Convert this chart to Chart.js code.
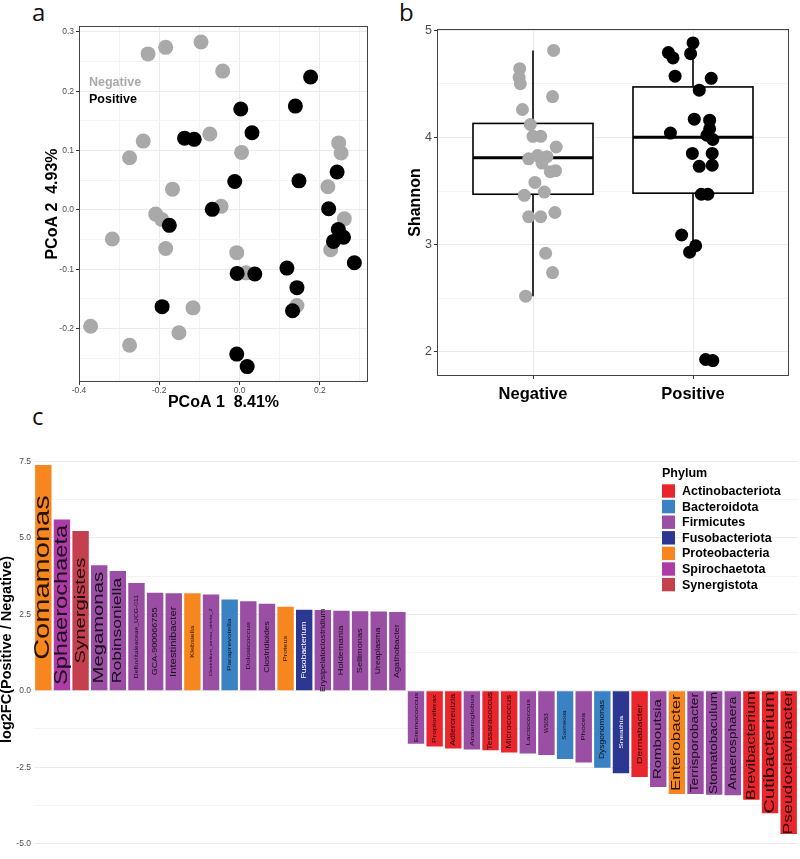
<!DOCTYPE html>
<html>
<head>
<meta charset="utf-8">
<script src="https://cdn.jsdelivr.net/npm/chart.js@4.4.0/dist/chart.umd.min.js"></script>
<style>
  body { margin: 0; background: #fff; width: 800px; height: 859px; position: relative; overflow: hidden; }
  canvas { position: absolute; }
  .tag { position: absolute; font-family: 'Open Sans', sans-serif; font-size: 24px; line-height: 24px; color: #111; }
</style>
</head>
<body>
<div class="tag" style="left:32px;top:0">a</div>
<div class="tag" style="left:399px;top:0">b</div>
<div class="tag" style="left:32px;top:404px">c</div>
<canvas id="pcoa" width="395" height="420" style="left:0;top:0"></canvas>
<canvas id="shannon" width="400" height="420" style="left:400px;top:0"></canvas>
<canvas id="lfc" width="800" height="419" style="left:0;top:440px"></canvas>
<script>
// ---- panel a: PCoA ----
const groups = ['Negative', 'Positive'];
const negPc1 = [-0.228, -0.184, -0.096, -0.042, -0.074, -0.240, -0.274, 0.005, -0.167, -0.046, -0.209, -0.194, -0.317,
                -0.184, -0.007, 0.016, -0.116, -0.151, -0.371, -0.274, 0.247, 0.253, 0.220, 0.261, 0.227, 0.143];
const negPc2 = [0.263, 0.274, 0.283, 0.234, 0.128, 0.116, 0.088, 0.097, 0.035, 0.006, -0.007, -0.016, -0.049,
                -0.065, -0.072, -0.106, -0.165, -0.207, -0.196, -0.228, 0.113, 0.096, 0.039, -0.015, -0.067, -0.161];
const posPc1 = [0.177, 0.139, 0.003, 0.031, -0.137, -0.113, -0.012, 0.148, 0.243, -0.068, 0.222, -0.175,
                0.246, 0.259, 0.234, 0.286, 0.118, -0.006, 0.038, 0.143, 0.132, -0.193, -0.007, 0.019];
const posPc2 = [0.224, 0.175, 0.170, 0.130, 0.121, 0.119, 0.048, 0.049, 0.064, 0.001, 0.002, -0.026,
                -0.033, -0.046, -0.053, -0.089, -0.098, -0.107, -0.108, -0.131, -0.170, -0.163, -0.243, -0.264];
const pc1Ticks = [-0.4, -0.3, -0.2, -0.1, 0, 0.1, 0.2, 0.3];
const pc2Ticks = [-0.25, -0.2, -0.15, -0.1, -0.05, 0, 0.05, 0.1, 0.15, 0.2, 0.25, 0.3];

// ---- panel b: Shannon ----
const negJitter = [1.129, 0.917, 0.913, 0.921, 1.122, 0.934, 0.983, 1.0, 1.048, 1.145, 0.973, 1.029, 1.087,
                   1.056, 1.108, 1.141, 1.012, 0.946, 1.071, 0.973, 1.048, 1.137, 1.079, 1.122, 0.954];
const negShannon = [4.81, 4.64, 4.56, 4.50, 4.38, 4.26, 4.12, 4.01, 4.01, 3.91, 3.80, 3.83, 3.82,
                    3.76, 3.68, 3.69, 3.58, 3.46, 3.49, 3.26, 3.26, 3.30, 2.92, 2.74, 2.52];
const posJitter = [2.0, 1.846, 1.875, 1.985, 1.888, 2.114, 2.039, 2.008, 2.104, 2.104, 1.859, 2.087,
                   2.124, 1.996, 2.120, 2.039, 2.120, 2.052, 2.093, 1.929, 2.017, 1.979, 2.079, 2.124];
const posShannon = [4.88, 4.79, 4.74, 4.78, 4.57, 4.55, 4.44, 4.17, 4.16, 4.08, 4.04, 4.02,
                    3.98, 3.85, 3.85, 3.73, 3.74, 3.47, 3.47, 3.09, 2.99, 2.93, 1.93, 1.92];
const boxLow = [2.52, 2.93];
const boxQ1 = [3.47, 3.48];
const boxMedian = [3.81, 4.00];
const boxQ3 = [4.13, 4.47];
const boxHigh = [4.81, 4.88];
const shannonTicks = [2, 2.5, 3, 3.5, 4, 4.5, 5];

// ---- panel c: log2 fold change ----
const genera = ['Comamonas', 'Sphaerochaeta', 'Synergistes', 'Megamonas', 'Robinsoniella', 'Defluviitaleaceae_UCG-011',
  'GCA-900066755', 'Intestinibacter', 'Klebsiella', 'Clostridium_sensu_stricto_2', 'Paraprevotella', 'Dolosicoccus',
  'Clostridioides', 'Proteus', 'Fusobacterium', 'Erysipelatoclostridium', 'Holdemania', 'Sellimonas', 'Ureaplasma',
  'Agathobacter', 'Eremococcus', 'Propioniferax', 'Adlercreutzia', 'Anaeroglobus', 'Tessaracoccus', 'Micrococcus',
  'Lactococcus', 'W5053', 'Soonwooa', 'Phocea', 'Dysgonomonas', 'Sneathia', 'Dermabacter', 'Romboutsia',
  'Enterobacter', 'Terrisporobacter', 'Stomatobaculum', 'Anaerosphaera', 'Brevibacterium', 'Cutibacterium',
  'Pseudoclavibacter'];
const log2fc = [7.39, 5.60, 5.23, 4.11, 3.92, 3.53, 3.21, 3.19, 3.19, 3.15, 2.99, 2.93, 2.85, 2.75, 2.65, 2.64, 2.62,
  2.60, 2.59, 2.58, -1.73, -1.82, -1.89, -1.92, -1.95, -2.02, -2.05, -2.10, -2.23, -2.35, -2.52, -2.70, -2.82,
  -3.15, -3.38, -3.38, -3.40, -3.42, -3.57, -4.01, -4.69];
const phylumOf = ['Proteobacteria', 'Spirochaetota', 'Synergistota', 'Firmicutes', 'Firmicutes', 'Firmicutes',
  'Firmicutes', 'Firmicutes', 'Proteobacteria', 'Firmicutes', 'Bacteroidota', 'Firmicutes', 'Firmicutes',
  'Proteobacteria', 'Fusobacteriota', 'Firmicutes', 'Firmicutes', 'Firmicutes', 'Firmicutes', 'Firmicutes',
  'Firmicutes', 'Actinobacteriota', 'Actinobacteriota', 'Firmicutes', 'Actinobacteriota', 'Actinobacteriota',
  'Firmicutes', 'Firmicutes', 'Bacteroidota', 'Firmicutes', 'Bacteroidota', 'Fusobacteriota', 'Actinobacteriota',
  'Firmicutes', 'Proteobacteria', 'Firmicutes', 'Firmicutes', 'Firmicutes', 'Actinobacteriota', 'Actinobacteriota',
  'Actinobacteriota'];
const phyla = ['Actinobacteriota', 'Bacteroidota', 'Firmicutes', 'Fusobacteriota', 'Proteobacteria', 'Spirochaetota', 'Synergistota'];
const lfcTicks = [-5, -3.75, -2.5, -1.25, 0, 1.25, 2.5, 3.75, 5, 6.25, 7.5];

// ---- styling ----
const FONT = '"Liberation Sans", Arial, sans-serif';
const GRAY = '#a9a9a9';
const GRID = '#ebebeb';
const GRID_MINOR = '#f4f4f4';
const TICK_TXT = '#4d4d4d';
const phylumColors = {
  Actinobacteriota: '#e8262b', Bacteroidota: '#3a82c3', Firmicutes: '#9a4fa5', Fusobacteriota: '#2b3791',
  Proteobacteria: '#f7861f', Spirochaetota: '#ad3ca6', Synergistota: '#c5404f'
};
// label size inside each bar (px) and stretch along the text
const labelPx = [21.5, 17.5, 15, 15, 13, 5, 6.7, 8.4, 5.5, 4, 6, 6, 6.4, 5.5, 6.4, 6.4, 6.9, 6.8, 6.4, 6.7,
  6.1, 6.1, 6.6, 6.2, 6.5, 7.2, 6.2, 4.6, 4.6, 6.1, 6.3, 6.2, 7.7, 11.1, 12.5, 10.2, 10.1, 10.1, 12.1, 14.7, 13];
const labelStretch = 1.35;

Chart.defaults.font.family = FONT;
Chart.defaults.animation = false;

const isMult = (v, s) => Math.abs(v / s - Math.round(v / s)) < 1e-6;

const frame = {
  id: 'frame',
  afterDraw(chart) {
    const { ctx, chartArea: a } = chart;
    ctx.save();
    ctx.strokeStyle = '#444';
    ctx.lineWidth = 1;
    ctx.strokeRect(Math.round(a.left) + 0.5, Math.round(a.top) + 0.5,
      Math.round(a.right - a.left) - 1, Math.round(a.bottom - a.top) - 1);
    ctx.restore();
  }
};

function gridOpts(step) {
  return {
    color: c => isMult(c.tick.value, step) ? GRID : GRID_MINOR,
    lineWidth: 1,
    tickLength: 3,
    tickColor: c => isMult(c.tick.value, step) ? '#333' : 'rgba(0,0,0,0)'
  };
}

// ---- a ----
const groupKey = {
  id: 'groupKey',
  afterDraw(chart) {
    const { ctx, chartArea: a } = chart;
    ctx.save();
    ctx.font = 'bold 12.5px ' + FONT;
    chart.data.datasets.forEach((ds, i) => {
      ctx.fillStyle = ds.backgroundColor;
      ctx.fillText(ds.label, a.left + 10, a.top + 60 + i * 17);
    });
    ctx.restore();
  }
};

new Chart(document.getElementById('pcoa'), {
  type: 'scatter',
  data: {
    datasets: [
      { label: groups[0], data: negPc1.map((x, i) => ({ x, y: negPc2[i] })), backgroundColor: GRAY, borderWidth: 0, pointRadius: 7.5, order: 2 },
      { label: groups[1], data: posPc1.map((x, i) => ({ x, y: posPc2[i] })), backgroundColor: '#000', borderWidth: 0, pointRadius: 7.5, order: 1 }
    ]
  },
  options: {
    responsive: false,
    layout: { padding: { top: 26, right: 27, left: 0, bottom: 0 } },
    plugins: { legend: { display: false }, tooltip: { enabled: false } },
    scales: {
      x: {
        type: 'linear', min: -0.4, max: 0.32,
        afterBuildTicks: s => { s.ticks = pc1Ticks.map(value => ({ value })); },
        afterFit: s => { s.height = 38; },
        ticks: { callback: v => isMult(v, 0.2) ? v.toFixed(1) : '', color: TICK_TXT, font: { size: 8.5 }, padding: 1, maxRotation: 0 },
        grid: gridOpts(0.2),
        border: { display: false },
        title: { display: true, text: 'PCoA 1  8.41%', color: '#000', font: { size: 16, weight: 'bold', lineHeight: 1 }, padding: { top: 0, bottom: 9 } }
      },
      y: {
        type: 'linear', min: -0.29, max: 0.31,
        afterBuildTicks: s => { s.ticks = pc2Ticks.map(value => ({ value })); },
        afterFit: s => { s.width = 79; },
        ticks: { callback: v => isMult(v, 0.1) ? v.toFixed(1) : '', color: TICK_TXT, font: { size: 8.5 }, padding: 2 },
        grid: gridOpts(0.1),
        border: { display: false },
        title: { display: true, text: 'PCoA 2  4.93%', color: '#000', font: { size: 16, weight: 'bold', lineHeight: 1 }, padding: { top: 45, bottom: 0 } }
      }
    }
  },
  plugins: [frame, groupKey]
});

// ---- b ----
const boxHalf = 0.375;
const boxes = {
  id: 'boxes',
  beforeDatasetsDraw(chart) {
    const { ctx, scales: { x, y } } = chart;
    ctx.save();
    ctx.strokeStyle = '#000';
    groups.forEach((g, i) => {
      const l = x.getPixelForValue(i + 1 - boxHalf), r = x.getPixelForValue(i + 1 + boxHalf);
      const m = x.getPixelForValue(i + 1);
      ctx.lineWidth = 1.6;
      ctx.beginPath();
      ctx.moveTo(m, y.getPixelForValue(boxHigh[i])); ctx.lineTo(m, y.getPixelForValue(boxQ3[i]));
      ctx.moveTo(m, y.getPixelForValue(boxQ1[i])); ctx.lineTo(m, y.getPixelForValue(boxLow[i]));
      ctx.stroke();
      const t = y.getPixelForValue(boxQ3[i]), b = y.getPixelForValue(boxQ1[i]);
      ctx.fillStyle = '#fff';
      ctx.fillRect(l, t, r - l, b - t);
      ctx.strokeRect(l, t, r - l, b - t);
      ctx.lineWidth = 3;
      ctx.beginPath();
      const md = y.getPixelForValue(boxMedian[i]);
      ctx.moveTo(l, md); ctx.lineTo(r, md);
      ctx.stroke();
    });
    ctx.restore();
  }
};

new Chart(document.getElementById('shannon'), {
  type: 'scatter',
  data: {
    datasets: [
      { label: groups[0], data: negJitter.map((x, i) => ({ x, y: negShannon[i] })), backgroundColor: GRAY, borderWidth: 0, pointRadius: 6.5, order: 2 },
      { label: groups[1], data: posJitter.map((x, i) => ({ x, y: posShannon[i] })), backgroundColor: '#000', borderWidth: 0, pointRadius: 6.5, order: 1 }
    ]
  },
  options: {
    responsive: false,
    layout: { padding: { top: 29, right: 11, left: 0, bottom: 0 } },
    plugins: { legend: { display: false }, tooltip: { enabled: false } },
    scales: {
      x: {
        type: 'linear', min: 0.4, max: 2.6,
        afterBuildTicks: s => { s.ticks = [1, 2].map(value => ({ value })); },
        afterFit: s => { s.height = 44; },
        ticks: { callback: v => groups[v - 1], color: '#000', font: { size: 16.5, weight: 'bold' }, padding: 6, maxRotation: 0 },
        grid: gridOpts(1),
        border: { display: false }
      },
      y: {
        type: 'linear', min: 1.776, max: 5.01,
        afterBuildTicks: s => { s.ticks = shannonTicks.map(value => ({ value })); },
        afterFit: s => { s.width = 37; },
        ticks: { callback: v => isMult(v, 1) ? String(v) : '', color: TICK_TXT, font: { size: 12.5 }, padding: 2 },
        grid: gridOpts(1),
        border: { display: false },
        title: { display: true, text: 'Shannon', color: '#000', font: { size: 16, weight: 'bold', lineHeight: 1 }, padding: { top: 8, bottom: 0 } }
      }
    }
  },
  plugins: [boxes, frame]
});

// ---- c ----
const barLabels = {
  id: 'barLabels',
  afterDatasetsDraw(chart) {
    const { ctx } = chart;
    const meta = chart.getDatasetMeta(0);
    ctx.save();
    ctx.textAlign = 'center';
    ctx.textBaseline = 'middle';
    meta.data.forEach((bar, i) => {
      const cy = (bar.y + bar.base) / 2;
      ctx.save();
      ctx.translate(bar.x, cy);
      ctx.rotate(-Math.PI / 2);
      ctx.scale(labelStretch, 1);
      ctx.font = labelPx[i] + 'px ' + FONT;
      ctx.fillStyle = phylumOf[i] === 'Fusobacteriota' ? '#fff' : 'rgba(0,0,0,0.85)';
      ctx.fillText(genera[i], 0, 0);
      ctx.restore();
    });
    ctx.restore();
  }
};

const phylumKey = {
  id: 'phylumKey',
  afterDraw(chart) {
    const { ctx } = chart;
    const x0 = 662, y0 = 37;
    ctx.save();
    ctx.fillStyle = '#000';
    ctx.font = 'bold 12.5px ' + FONT;
    ctx.textBaseline = 'alphabetic';
    ctx.fillText('Phylum', x0, y0);
    ctx.textBaseline = 'middle';
    phyla.forEach((p, i) => {
      const cy = y0 + 14 + i * 15.6;
      ctx.fillStyle = phylumColors[p];
      ctx.fillRect(x0, cy - 6.7, 13, 13.4);
      ctx.fillStyle = '#000';
      ctx.fillText(p, x0 + 20, cy + 0.5);
    });
    ctx.restore();
  }
};

new Chart(document.getElementById('lfc'), {
  type: 'bar',
  data: {
    labels: genera,
    datasets: [{
      data: log2fc,
      backgroundColor: phylumOf.map(p => phylumColors[p]),
      borderWidth: 0,
      barPercentage: 0.88,
      categoryPercentage: 1.0
    }]
  },
  options: {
    responsive: false,
    layout: { padding: { top: 7, right: 2, left: 0, bottom: 2 } },
    plugins: { legend: { display: false }, tooltip: { enabled: false } },
    scales: {
      x: { display: false },
      y: {
        min: -5.24, max: 7.94,
        afterBuildTicks: s => { s.ticks = lfcTicks.map(value => ({ value })); },
        afterFit: s => { s.width = 34; },
        ticks: { callback: v => isMult(v, 2.5) ? v.toFixed(1) : '', color: TICK_TXT, font: { size: 8.5 }, padding: 3 },
        grid: { color: c => isMult(c.tick.value, 2.5) ? GRID : GRID_MINOR, lineWidth: 1, drawTicks: false },
        border: { display: false },
        title: { display: true, text: 'log2FC(Positive / Negative)', color: '#000', font: { size: 14.5, weight: 'bold', lineHeight: 1 }, padding: { top: 0, bottom: 0 } }
      }
    }
  },
  plugins: [barLabels, phylumKey]
});
</script>
</body>
</html>
